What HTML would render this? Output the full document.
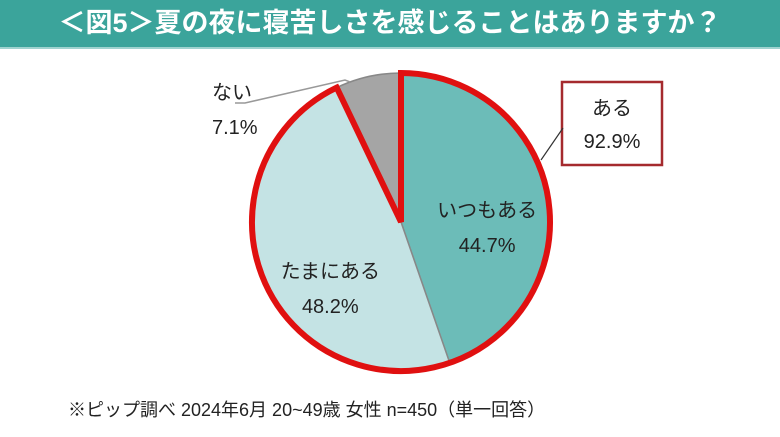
<!DOCTYPE html>
<html><head><meta charset="utf-8"><style>
body{margin:0;width:780px;height:437px;background:#fff;overflow:hidden;font-family:"Liberation Sans","Noto Sans CJK JP",sans-serif}
#title{position:absolute;left:0;top:0;width:780px;height:47px;background:#3ba49b;color:#fff;font-size:27px;font-weight:bold;line-height:47px;text-align:center;letter-spacing:0px}
#title-line{position:absolute;left:0;top:47px;width:780px;height:2px;background:#9fd3cf}
#note{position:absolute;left:68px;top:396px;font-size:18px;color:#222}
svg{position:absolute;left:0;top:0}
</style></head><body>
<div id="title">＜図5＞夏の夜に寝苦しさを感じることはありますか？</div>
<div id="title-line"></div>
<svg width="780" height="437">
<g id="slices"></g>
<g id="labels" font-family="Liberation Sans, Noto Sans CJK JP, sans-serif" fill="#222" font-size="20"></g>
</svg>
<div id="note">※ピップ調べ 2024年6月 20~49歳 女性 n=450（単一回答）</div>
<script>
const categories=["いつもある","たまにある","ない"];
const values=[44.7,48.2,7.1];
const colors=["#6cbcb8","#c4e3e4","#a5a5a5"];
const groupLabel="ある";
const groupValue=92.9;
const cx=401,cy=222,r=149;
const NS="http://www.w3.org/2000/svg";
const total=values.reduce((a,b)=>a+b,0);
function pt(frac,rad){const a=frac*2*Math.PI;return [cx+rad*Math.sin(a),cy-rad*Math.cos(a)];}
function arc(f0,f1,rad){const p0=pt(f0,rad),p1=pt(f1,rad);const large=(f1-f0)>0.5?1:0;
return `M${cx},${cy}L${p0[0]},${p0[1]}A${rad},${rad} 0 ${large} 1 ${p1[0]},${p1[1]}Z`;}
const sg=document.getElementById('slices');
let acc=0;const mids=[];
values.forEach((v,i)=>{const f0=acc/total,f1=(acc+v)/total;acc+=v;mids.push((f0+f1)/2);
const p=document.createElementNS(NS,'path');p.setAttribute('d',arc(f0,f1,r));p.setAttribute('fill',colors[i]);
p.setAttribute('stroke','#888');p.setAttribute('stroke-width','1.5');


sg.appendChild(p);});
const outline=document.createElementNS(NS,'path');
outline.setAttribute('d',arc(0,groupValue/100,r));
outline.setAttribute('fill','none');outline.setAttribute('stroke','#e01010');outline.setAttribute('stroke-width','6');outline.setAttribute('stroke-linejoin','miter');


sg.appendChild(outline);
const lg=document.getElementById('labels');
function txt(x,y,s,name,anchor){const t=document.createElementNS(NS,'text');t.setAttribute('x',x);t.setAttribute('y',y);t.textContent=s;t.setAttribute('text-anchor',anchor||'middle');


lg.appendChild(t);}
const offs=[[-2,10],[12,22]];
[0,1].forEach(i=>{const p=pt(mids[i],r*0.6);const x=p[0]+offs[i][0],y=p[1]+offs[i][1];txt(x,y,categories[i],'label-'+i);txt(x,y+35,values[i].toFixed(1)+'%','value-'+i);});
const pe=pt(mids[2]-0.02,r);
const ln=document.createElementNS(NS,'polyline');
ln.setAttribute('points',`${pe[0]},${pe[1]} 345,80 245,103 235,103`);
ln.setAttribute('fill','none');ln.setAttribute('stroke','#999');ln.setAttribute('stroke-width','1.5');


lg.appendChild(ln);
txt(212,99,categories[2],'label-2','start');txt(212,134,values[2].toFixed(1)+'%','value-2','start');
const bx=document.createElementNS(NS,'rect');bx.setAttribute('x',562);bx.setAttribute('y',82);bx.setAttribute('width',100);bx.setAttribute('height',83);
bx.setAttribute('fill','#fff');bx.setAttribute('stroke','#a52a2e');bx.setAttribute('stroke-width','2.5');


lg.appendChild(bx);
const l2=document.createElementNS(NS,'line');l2.setAttribute('x1',563);l2.setAttribute('y1',128);l2.setAttribute('x2',541);l2.setAttribute('y2',160);l2.setAttribute('stroke','#333');l2.setAttribute('stroke-width','1.2');


lg.appendChild(l2);
txt(612,115,groupLabel,'group-label');txt(612,148,groupValue.toFixed(1)+'%','group-value');
</script>
</body></html>
